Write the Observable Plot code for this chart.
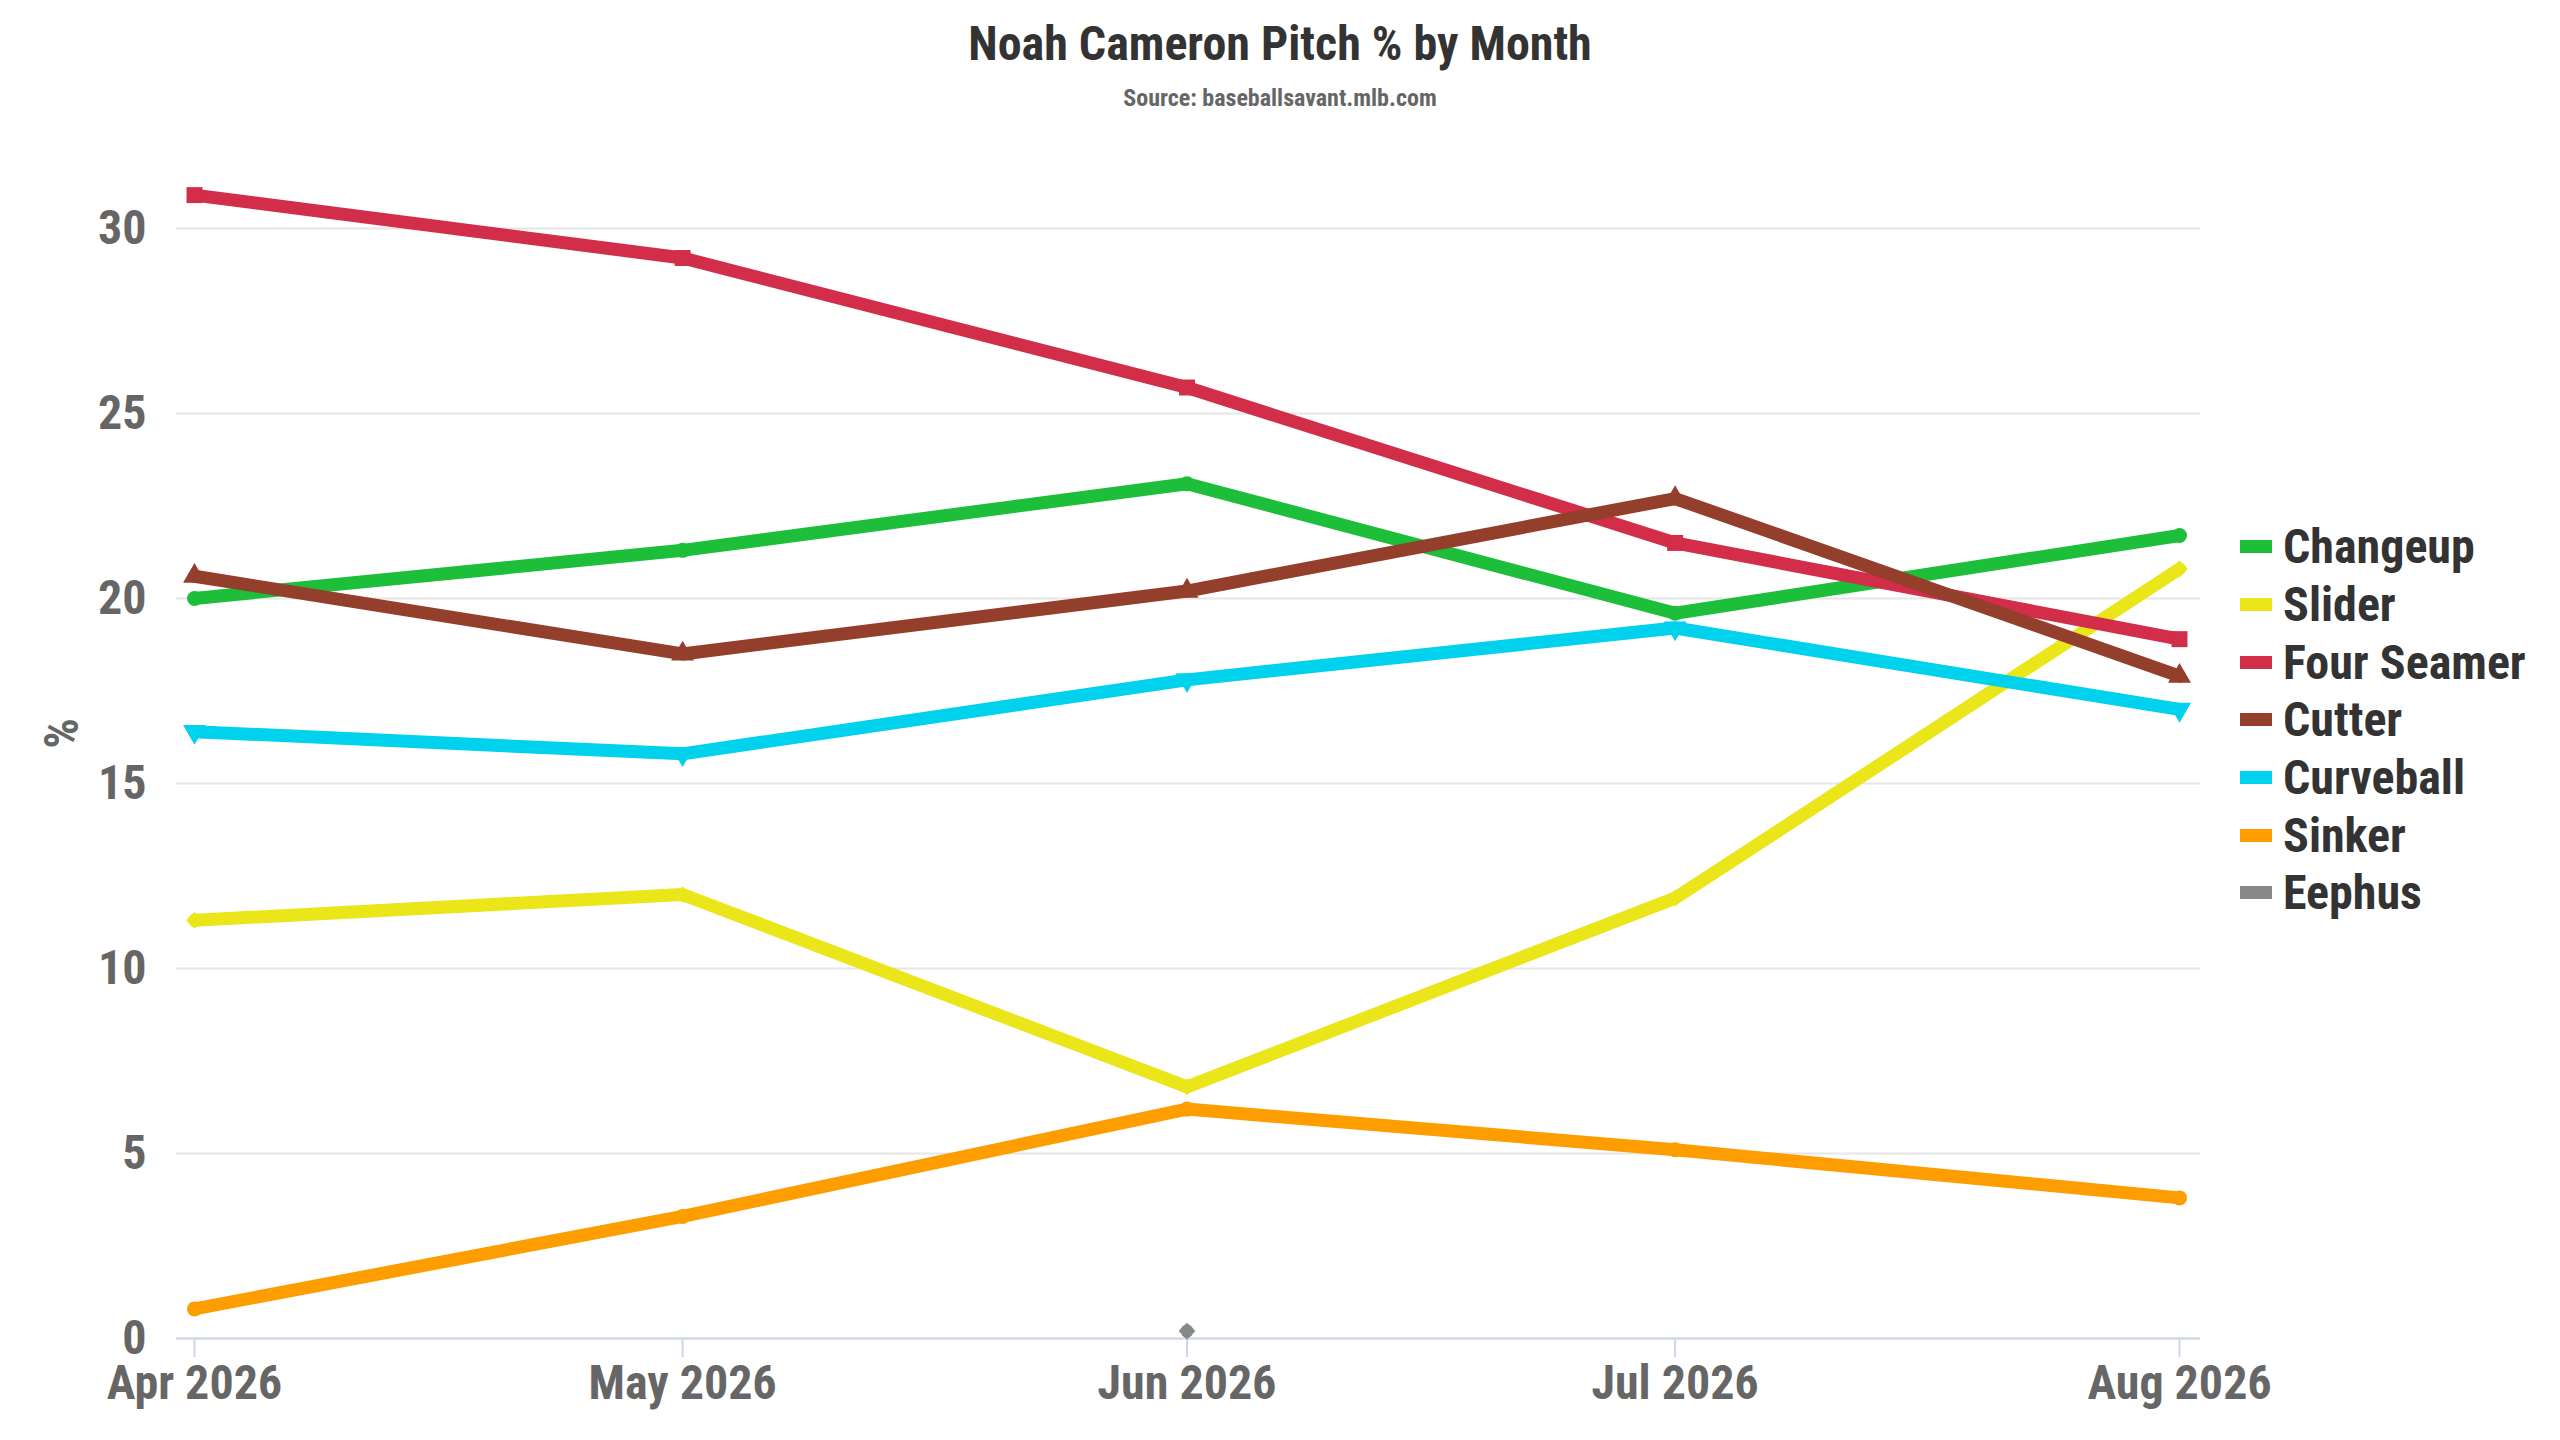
<!DOCTYPE html>
<html><head><meta charset="utf-8">
<script src="https://cdn.jsdelivr.net/npm/d3@7"></script>
<script src="https://cdn.jsdelivr.net/npm/@observablehq/plot@0.6"></script>
<style>
:root{--f:"Roboto Condensed","Liberation Sans Narrow","Arial Narrow","DejaVu Sans Condensed",Roboto,sans-serif;}
html,body{margin:0;padding:0;background:#fff;}
body{width:2560px;height:1440px;position:relative;overflow:hidden;font-family:var(--f);font-stretch:condensed;}
#title{position:absolute;left:0;width:2560px;top:17px;text-align:center;font-size:48px;font-weight:700;color:#333;line-height:54px;}
#subtitle{position:absolute;left:0;width:2560px;top:84px;text-align:center;font-size:24px;font-weight:700;color:#666;line-height:28px;}
#chart{position:absolute;left:0;top:120px;}
#legend{position:absolute;left:2240px;top:518px;}
.lg-swatch{height:57.7px;padding:0 !important;}
.lg-swatch > svg{margin-right:11px !important;}
</style>
</head><body>
<div id="title">Noah Cameron Pitch % by Month</div>
<div id="subtitle">Source: baseballsavant.mlb.com</div>
<div id="chart"></div>
<div id="legend"></div>
<script>
const FONT = '"Roboto Condensed","Liberation Sans Narrow","Arial Narrow","DejaVu Sans Condensed",Roboto,sans-serif';

const months = ["2026-04-01","2026-05-01","2026-06-01","2026-07-01","2026-08-01"];
const pitchNames = ["Changeup","Slider","Four Seamer","Cutter","Curveball","Sinker","Eephus"];
const pitchColors = ["#1DBE3A","#EAE619","#D22D49","#933F2C","#00D1ED","#FE9D00","#888888"];

const changeup   = [20.0, 21.3, 23.1, 19.6, 21.7];
const slider     = [11.3, 12.0, 6.8, 11.9, 20.8];
const fourSeamer = [30.9, 29.2, 25.7, 21.5, 18.9];
const cutter     = [20.6, 18.5, 20.2, 22.7, 17.9];
const curveball  = [16.4, 15.8, 17.8, 19.2, 17.0];
const sinker     = [0.8, 3.3, 6.2, 5.1, 3.8];
const eephus     = [null, null, 0.2, null, null];

const yTicks = [0, 5, 10, 15, 20, 25, 30];

const triangleDown = {
  draw(context, size) {
    const y = -Math.sqrt(size / (Math.sqrt(3) * 3));
    context.moveTo(0, -y * 2);
    context.lineTo(-Math.sqrt(3) * y, y);
    context.lineTo(Math.sqrt(3) * y, y);
    context.closePath();
  }
};
const markerSymbols = ["circle", "diamond2", "square", "triangle", triangleDown, "circle", "diamond2"];
const markerSizes = [7.5, 7.5, 9, 8.5, 8.5, 7.5, 7.5];

const seriesValues = [changeup, slider, fourSeamer, cutter, curveball, sinker, eephus];
const dates = months.map(m => new Date(m));

const rows = [];
pitchNames.forEach((name, i) => {
  dates.forEach((dt, j) => {
    const v = seriesValues[i][j];
    if (v != null) rows.push({pitch: name, date: dt, value: v});
  });
});

const seriesMarks = pitchNames.flatMap((name, i) => {
  const d = rows.filter(r => r.pitch === name);
  return [
    Plot.line(d, {x: "date", y: "value", stroke: pitchColors[i], strokeWidth: 13, strokeLinejoin: "round", strokeLinecap: "round"}),
    Plot.dot(d, {x: "date", y: "value", fill: pitchColors[i], stroke: "none", symbol: markerSymbols[i], r: markerSizes[i]})
  ];
});

const chart = Plot.plot({
  width: 2560,
  height: 1320,
  marginTop: 8,
  marginBottom: 102,
  marginLeft: 176,
  marginRight: 360,
  x: {type: "utc", domain: [dates[0], dates[dates.length - 1]], insetLeft: 18, insetRight: 21},
  y: {domain: [0, 32.7]},
  style: {fontFamily: FONT, color: "#666", background: "transparent", overflow: "visible", fontStretch: "condensed"},
  marks: [
    Plot.gridY(yTicks, {stroke: "#e6e6e6", strokeOpacity: 1, strokeWidth: 2}),
    Plot.ruleY([0], {stroke: "#ccd6eb", strokeWidth: 2}),
    Plot.axisX(dates, {tickSize: 19, tickPadding: 7, stroke: "#ccd6eb", strokeWidth: 2, strokeOpacity: 1,
      tickFormat: d3.utcFormat("%b %Y"), fill: "#666", fontSize: 48, fontWeight: "bold", label: null}),
    Plot.axisY(yTicks, {tickSize: 0, tickPadding: 30, fill: "#666", fontSize: 48, fontWeight: "bold",
      label: "%", labelAnchor: "center", labelArrow: "none", labelOffset: 133}),
    ...seriesMarks
  ]
});
document.getElementById("chart").appendChild(chart);

const legend = Plot.legend({
  legend: "swatches",
  color: {domain: pitchNames, range: pitchColors},
  columns: 1,
  swatchWidth: 32,
  swatchHeight: 13,
  className: "lg",
  style: {fontFamily: FONT, fontSize: "48px", fontWeight: "bold", color: "#333", fontStretch: "condensed"}
});
document.getElementById("legend").appendChild(legend);
</script>
</body></html>
